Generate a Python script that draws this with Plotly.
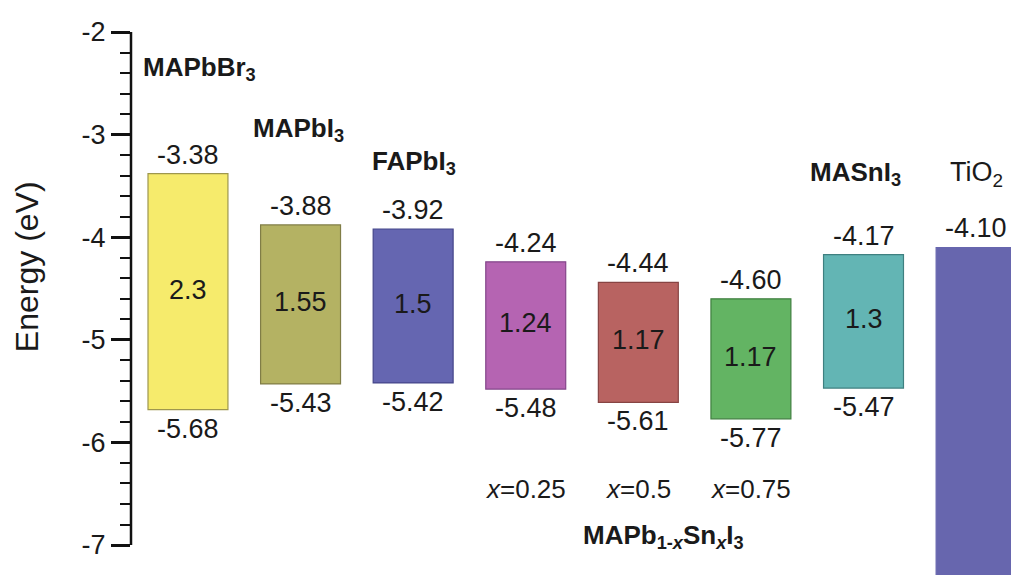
import plotly.graph_objects as go

# ---------------- data ----------------
materials = ["MAPbBr3", "MAPbI3", "FAPbI3", "MAPb0.75Sn0.25I3",
             "MAPb0.5Sn0.5I3", "MAPb0.25Sn0.75I3", "MASnI3", "TiO2"]
conduction_band = [-3.38, -3.88, -3.92, -4.24, -4.44, -4.60, -4.17, -4.10]
valence_band = [-5.68, -5.43, -5.42, -5.48, -5.61, -5.77, -5.47, -7.40]
band_gap_labels = ["2.3", "1.55", "1.5", "1.24", "1.17", "1.17", "1.3", None]
cb_labels = ["-3.38", "-3.88", "-3.92", "-4.24", "-4.44", "-4.60", "-4.17", "-4.10"]
vb_labels = ["-5.68", "-5.43", "-5.42", "-5.48", "-5.61", "-5.77", "-5.47", None]
sn_fraction = [None, None, None, "0.25", "0.5", "0.75", None, None]
name_labels = ["<b>MAPbBr<sub>3</sub></b>", "<b>MAPbI<sub>3</sub></b>",
               "<b>FAPbI<sub>3</sub></b>", None, None, None,
               "<b>MASnI<sub>3</sub></b>", "TiO<sub>2</sub>"]
group_label = "<b>MAPb<sub>1-<i>x</i></sub>Sn<sub><i>x</i></sub>I<sub>3</sub></b>"
y_ticks = [-2, -3, -4, -5, -6, -7]
y_minor = [round(-2 - 0.2 * k, 1) for k in range(26)]

# ---------------- style ----------------
fill_colors = ["#F6EB6C", "#B4B263", "#6566B1", "#B564B2", "#B86361",
               "#63B463", "#63B5B4", "#6766AE"]
edge_colors = ["#9E974E", "#807D46", "#45468A", "#84468A", "#874443",
               "#3F7F3F", "#3F8080", "#6766AE"]
FONT = "Liberation Sans, Arial, sans-serif"
TXT = "#1a1a1a"
NUM = 27
NAME = 26
name_y = [-2.36, -2.95, -3.27, None, None, None, -3.38, -3.38]
name_xshift = [-47, -50, -43, 0, 0, 0, -8, 0]
name_anchor = ["left", "left", "left", None, None, None, "center", "center"]
name_size = [NAME, NAME, NAME, None, None, None, NAME, NAME + 1]

xs = list(range(len(materials)))

fig = go.Figure()
fig.add_trace(go.Bar(
    x=xs,
    y=[c - v for c, v in zip(conduction_band, valence_band)],
    base=valence_band,
    width=0.71,
    marker=dict(color=fill_colors, line=dict(color=edge_colors, width=1.2)),
    hoverinfo="skip",
))

ann = []
for i in xs:
    ann.append(dict(x=i, y=conduction_band[i], text=cb_labels[i], showarrow=False,
                    yanchor="bottom", yshift=2, font=dict(size=NUM, family=FONT, color=TXT)))
    if vb_labels[i]:
        ann.append(dict(x=i, y=valence_band[i], text=vb_labels[i], showarrow=False,
                        yanchor="top", yshift=-2, font=dict(size=NUM, family=FONT, color=TXT)))
    if band_gap_labels[i]:
        ann.append(dict(x=i, y=(conduction_band[i] + valence_band[i]) / 2,
                        text=band_gap_labels[i], showarrow=False, yanchor="middle",
                        yshift=2, font=dict(size=NUM, family=FONT, color=TXT)))
    if sn_fraction[i]:
        ann.append(dict(x=i, y=-6.45, text="<i>x</i>=" + sn_fraction[i], showarrow=False,
                        yanchor="middle", font=dict(size=NUM - 1, family=FONT, color=TXT)))
    if name_labels[i]:
        ann.append(dict(x=i, y=name_y[i], text=name_labels[i], showarrow=False,
                        xanchor=name_anchor[i], xshift=name_xshift[i], yanchor="middle",
                        font=dict(size=name_size[i], family=FONT, color=TXT)))

ann.append(dict(x=4.22, y=-6.92, text=group_label, showarrow=False, yanchor="middle",
                font=dict(size=NAME, family=FONT, color=TXT)))
ann.append(dict(x=-0.118, xref="paper", y=-4.29, yref="y", text="Energy (eV)",
                textangle=-90, showarrow=False, xanchor="center", yanchor="middle",
                font=dict(size=32, family=FONT, color=TXT)))

fig.update_layout(
    width=1011, height=575,
    margin=dict(l=131, r=0, t=0, b=0),
    paper_bgcolor="white", plot_bgcolor="white",
    showlegend=False,
    annotations=ann,
    shapes=[dict(type="line", xref="paper", x0=0, x1=0, yref="y", y0=-2, y1=-7,
                 line=dict(color="#111", width=2.5))],
    xaxis=dict(range=[-0.506, 7.31], visible=False, showgrid=False, zeroline=False),
    yaxis=dict(range=[-7.292, -1.688], showgrid=False, zeroline=False, showline=False,
               tickmode="array", tickvals=y_ticks, ticktext=[str(t) for t in y_ticks],
               ticks="outside", ticklen=19, tickwidth=2.5, tickcolor="#111",
               tickfont=dict(size=NUM, family=FONT, color=TXT),
               minor=dict(tickmode="array", tickvals=y_minor, ticks="outside",
                          ticklen=10, tickwidth=2, tickcolor="#111", showgrid=False)),
)

fig.write_html("out.html", config={"displayModeBar": False},
               post_script="document.body.style.margin='0';")
